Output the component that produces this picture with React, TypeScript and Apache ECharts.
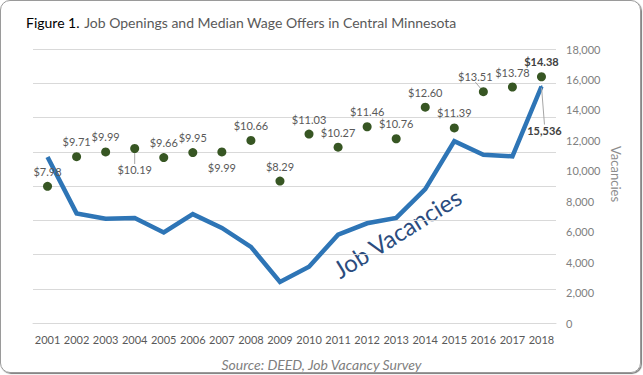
import React, { useEffect, useRef } from "react";
import * as echarts from "echarts";

const years = ["2001","2002","2003","2004","2005","2006","2007","2008","2009","2010","2011","2012","2013","2014","2015","2016","2017","2018"];
const wages = [7.98, 9.71, 9.99, 10.19, 9.66, 9.95, 9.99, 10.66, 8.29, 11.03, 10.27, 11.46, 10.76, 12.60, 11.39, 13.51, 13.78, 14.38];
const vacancies = [10900, 7200, 6850, 6900, 5950, 7150, 6250, 5000, 2700, 3700, 5800, 6550, 6900, 8800, 11950, 11050, 10950, 15536];
const vacancyTicks = { min: 0, max: 18000, interval: 2000 };
const wageTicks = { min: 0, max: 16, interval: 2 };

const FONT = "Lato";

export default function App() {
  const ref = useRef<HTMLDivElement>(null);
  useEffect(() => {
    document.body.style.margin = "0";
    const chart = echarts.init(ref.current!, null, { renderer: "svg" });
    const last = years.length - 1;
    const wageData = wages.map((w, i) => {
      const item: any = { value: w };
      if (i === last) {
        item.label = { fontWeight: "bold", color: "#404040" };
      }
      if (i === 3 || i === 15) {
        item.labelLine = { show: true, lineStyle: { color: "#a6a6a6", width: 1 } };
      }
      return item;
    });
    const vacData = vacancies.map((v, i) => {
      const item: any = { value: v };
      if (i === last) {
        item.symbol = "circle";
        item.symbolSize = 2;
        item.label = {
          show: true,
          position: "top",
          distance: 5,
          fontFamily: FONT,
          fontSize: 11,
          fontWeight: "bold",
          color: "#404040",
          formatter: (p: any) => Number(p.value).toLocaleString("en-US"),
        };
        item.labelLine = { show: true, lineStyle: { color: "#a6a6a6", width: 1 } };
      }
      return item;
    });
    chart.setOption({
      animation: false,
      textStyle: { fontFamily: FONT },
      title: [
        {
          text: "{a|Figure 1.} {b|Job Openings and Median Wage Offers in Central Minnesota}",
          left: 21,
          top: 8,
          textStyle: {
            fontWeight: "normal",
            rich: {
              a: { fontFamily: FONT, fontSize: 14, fontWeight: "normal", color: "#000000" },
              b: { fontFamily: FONT, fontSize: 14, fontWeight: "normal", color: "#595959" },
            },
          },
        },
        {
          text: "Source: DEED, Job Vacancy Survey",
          left: "center",
          top: 352,
          textStyle: { fontFamily: FONT, fontSize: 14, fontStyle: "italic", fontWeight: "normal", color: "#7f7f7f" },
        },
      ],
      grid: { left: 33, right: 87, top: 49, bottom: 52, containLabel: false },
      xAxis: {
        type: "category",
        data: years,
        boundaryGap: true,
        axisLine: { show: true, lineStyle: { color: "#d9d9d9" } },
        axisTick: { show: false },
        axisLabel: { fontFamily: FONT, fontSize: 11, color: "#595959", margin: 11, interval: 0 },
      },
      yAxis: [
        {
          type: "value",
          min: wageTicks.min,
          max: wageTicks.max,
          interval: wageTicks.interval,
          position: "left",
          axisLabel: { show: false },
          axisLine: { show: false },
          axisTick: { show: false },
          splitLine: { show: true, lineStyle: { color: "#d9d9d9", width: 1 } },
        },
        {
          type: "value",
          min: vacancyTicks.min,
          max: vacancyTicks.max,
          interval: vacancyTicks.interval,
          position: "right",
          axisLabel: {
            fontFamily: FONT,
            fontSize: 11,
            color: "#808080",
            margin: 10,
            formatter: (v: number) => v.toLocaleString("en-US"),
          },
          axisLine: { show: false },
          axisTick: { show: false },
          splitLine: { show: false },
        },
      ],
      series: [
        {
          type: "line",
          name: "Job Vacancies",
          yAxisIndex: 1,
          data: vacData,
          symbol: "none",
          showSymbol: true,
          lineStyle: { color: "#2e75b6", width: 4.5, join: "miter" },
          itemStyle: { color: "#2e75b6" },
          z: 2,
          labelLayout: (p: any) => (p.dataIndex === last ? { dx: 3, dy: 55 } : {}),
        },
        {
          type: "scatter",
          name: "Median Wage Offer",
          yAxisIndex: 0,
          data: wageData,
          symbolSize: 9,
          itemStyle: { color: "#375623", opacity: 1 },
          z: 3,
          label: {
            show: true,
            position: "top",
            distance: 5,
            fontFamily: FONT,
            fontSize: 11,
            color: "#595959",
            formatter: (p: any) => "$" + p.value.toFixed(2),
          },
          labelLine: { show: false, lineStyle: { color: "#a6a6a6", width: 1 } },
          labelLayout: (p: any) => {
            if (p.dataIndex === 3) return { dy: 36 };
            if (p.dataIndex === 6) return { dy: 31 };
            if (p.dataIndex === 15) return { dx: -8 };
            return {};
          },
        },
      ],
      graphic: [
        {
          type: "text",
          x: 397,
          y: 233,
          rotation: (32 * Math.PI) / 180,
          style: {
            text: "Job Vacancies",
            fontFamily: FONT,
            fontSize: 24,
            fill: "#2b4c7e",
            align: "center",
            verticalAlign: "middle",
          },
        },
        {
          type: "text",
          x: 616,
          y: 174,
          rotation: -Math.PI / 2,
          style: {
            text: "Vacancies",
            fontFamily: FONT,
            fontSize: 13,
            fill: "#8c8c8c",
            align: "center",
            verticalAlign: "middle",
          },
        },
      ],
    });
    return () => chart.dispose();
  }, []);
  return (
    <div style={{ position: "relative", width: 643, height: 375, background: "#ffffff" }}>
      <div
        style={{
          position: "absolute",
          left: 0,
          top: 0,
          width: 641,
          height: 373,
          boxSizing: "border-box",
          border: "1px solid #9a9a9a",
          borderRadius: 10,
          boxShadow: "1px 1px 1px #7a7a7a",
        }}
      />
      <div ref={ref} style={{ position: "absolute", left: 0, top: 0, width: 643, height: 375 }} />
    </div>
  );
}
